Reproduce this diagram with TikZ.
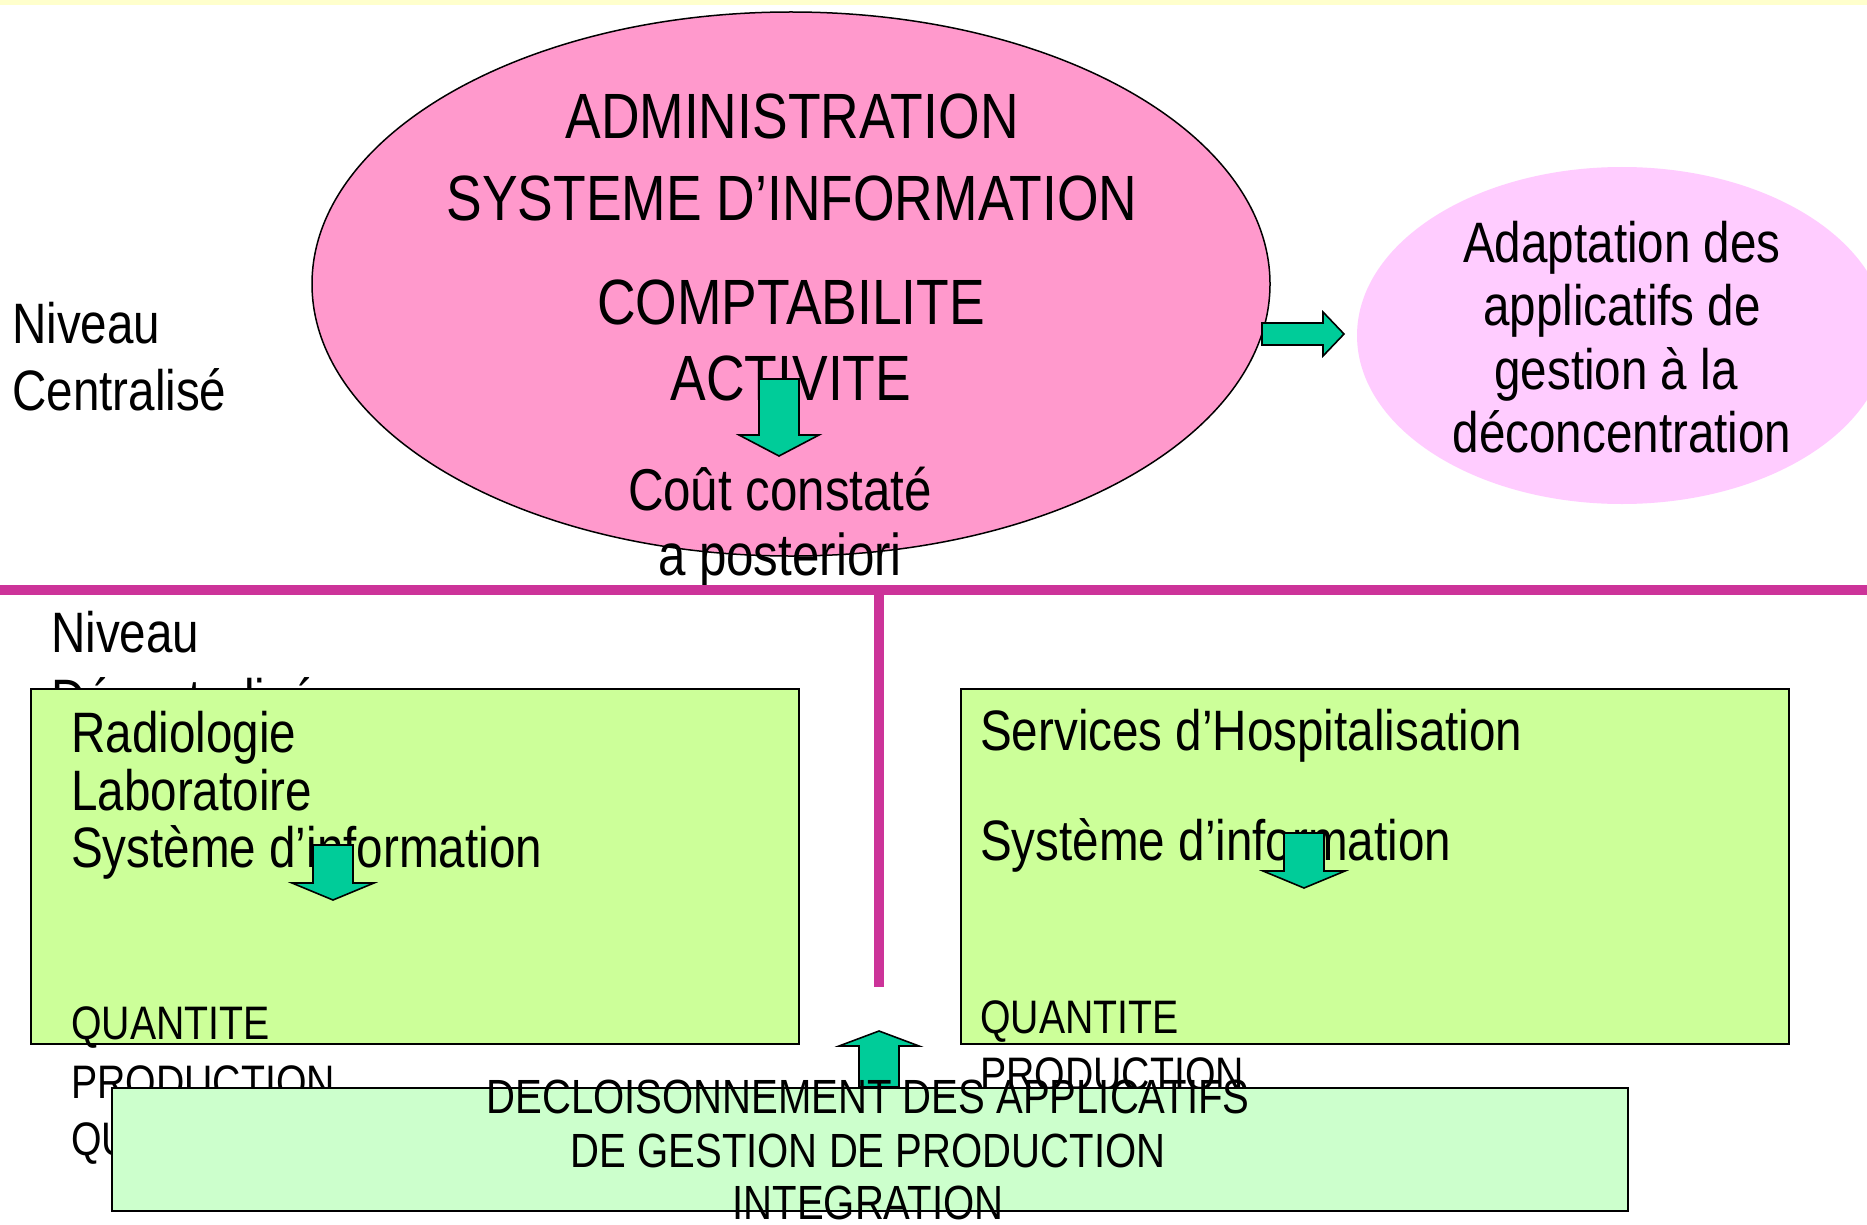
\documentclass[tikz,border=0pt]{standalone}
\usepackage{fontspec}
\setmainfont{Liberation Sans}[FakeStretch=0.835]
\usetikzlibrary{shapes.geometric}
\definecolor{pinkA}{HTML}{FF99CC}
\definecolor{pinkB}{HTML}{FFCCFF}
\definecolor{greenA}{HTML}{CCFF99}
\definecolor{greenB}{HTML}{CCFFCC}
\definecolor{arrowgreen}{HTML}{00CC99}
\definecolor{magentaline}{HTML}{CC3399}
\definecolor{topband}{HTML}{FFFFCC}
\tikzset{
  txtbig/.style={font=\fontsize{64}{70}\selectfont, inner sep=0pt, anchor=base},
  txtmid/.style={font=\fontsize{57}{63}\selectfont, inner sep=0pt},
  txtcout/.style={font=\fontsize{59}{64}\selectfont, inner sep=0pt, anchor=base},
  txtsmall/.style={font=\fontsize{47}{52}\selectfont, inner sep=0pt},
  txtlight/.style={font=\fontsize{48}{52}\selectfont, inner sep=0pt, anchor=base},
  boxA/.style={draw=black, line width=1.8pt, fill=greenA, anchor=north west, inner sep=0pt},
  boxB/.style={draw=black, line width=1.8pt, fill=greenB, anchor=north west, inner sep=0pt},
  blockarrow/.style={draw=black, line width=1.6pt, fill=arrowgreen, line join=miter},
  magline/.style={draw=magentaline, line width=10pt},
  downarrow/.pic={\path[blockarrow] (-20,0) -- (20,0) -- (20,56) -- (40,56) -- (0,77) -- (-40,56) -- (-20,56) -- cycle;},
  dnarrowshort/.pic={\path[blockarrow] (-20,0) -- (20,0) -- (20,38) -- (41,38) -- (0,55) -- (-41,38) -- (-20,38) -- cycle;},
  uparrow/.pic={\path[blockarrow] (-20,0) -- (20,0) -- (20,-41) -- (40,-41) -- (0,-56) -- (-40,-41) -- (-20,-41) -- cycle;},
  rightarrow/.pic={\path[blockarrow] (0,-11) -- (61,-11) -- (61,-22) -- (82,0) -- (61,22) -- (61,11) -- (0,11) -- cycle;}
}
\begin{document}
\begin{tikzpicture}[x=1pt,y=-1pt]
\useasboundingbox (0,0) rectangle (1867,1225);
\clip (0,0) rectangle (1867,1225);
\fill[white] (0,0) rectangle (1867,1225);
\fill[topband] (0,0) rectangle (1867,5);

% top ellipses
\node[ellipse, draw=black, line width=1.5pt, fill=pinkA, minimum width=958pt, minimum height=544pt, inner sep=0pt] (admin) at (791,284) {};
\node[ellipse, fill=pinkB, minimum width=530pt, minimum height=337pt, inner sep=0pt] (adapt) at (1622,335.5) {};

\node[txtbig] (t1) at (792,139) {ADMINISTRATION};
\node[txtbig] (t2) at (792,220) {SYSTEME D’INFORMATION};
\node[txtbig] (t3) at (791,324) {COMPTABILITE};
\node[txtbig] (t4) at (791,400) {ACTIVITE};
\node[txtcout] (c1) at (780,510) {Coût constaté};
\node[txtcout] (c2) at (780,575) {a posteriori};

\pic at (779,379) {downarrow};
\pic at (1262,334) {rightarrow};

\node[txtmid, anchor=base] (a1) at (1622,262) {Adaptation des};
\node[txtmid, anchor=base] (a2) at (1622,325) {applicatifs de};
\node[txtmid, anchor=base] (a3) at (1616,389) {gestion à la};
\node[txtmid, anchor=base] (a4) at (1622,452) {déconcentration};

\node[txtmid, anchor=base west] (n1) at (12,343) {Niveau};
\node[txtmid, anchor=base west] (n2) at (12,410) {Centralisé};

% separator lines
\coordinate (hl) at (0,589.5);
\coordinate (hr) at (1867,589.5);
\coordinate (vt) at (879,589.5);
\coordinate (vb) at (879,987);
\draw[magline] (hl) -- (hr);
\draw[magline] (vt) -- (vb);

\node[txtmid, anchor=base west] (d1) at (51,652) {Niveau};
\node[txtmid, anchor=base west] (d2) at (51,719) {Décentralisé};

% left box
\node[boxA, minimum width=768pt, minimum height=355pt] (left) at (30,688) {};
\node[txtmid, anchor=base west] (l1) at (71,752) {Radiologie};
\node[txtmid, anchor=base west] (l2) at (71,810) {Laboratoire};
\node[txtmid, anchor=base west] (l3) at (71,867) {Système d’information};
\node[txtsmall, anchor=base west] (l4) at (71,1039) {QUANTITE};
\node[txtsmall, anchor=base west] (l5) at (71,1098) {PRODUCTION};
\node[txtsmall, anchor=base west] (l6) at (71,1155) {QUALITE};

% right box
\node[boxA, minimum width=828pt, minimum height=355pt] (right) at (960,688) {};
\node[txtmid, anchor=base west] (r1) at (980,750) {Services d’Hospitalisation};
\node[txtmid, anchor=base west] (r2) at (980,860) {Système d’information};
\node[txtsmall, anchor=base west] (r4) at (980,1033) {QUANTITE};
\node[txtsmall, anchor=base west] (r5) at (980,1090) {PRODUCTION};
\node[txtsmall, anchor=base west] (r6) at (980,1148) {QUALITE};

\pic at (333,845) {dnarrowshort};
\pic at (1304,833) {dnarrowshort};
\pic at (879,1087) {uparrow};

% bottom box
\node[boxB, minimum width=1516pt, minimum height=123pt] (bottom) at (111,1087) {};
\node[txtlight] (b1) at (868,1113) {DECLOISONNEMENT DES APPLICATIFS};
\node[txtlight] (b2) at (868,1167) {DE GESTION DE PRODUCTION};
\node[txtlight] (b3) at (868,1219) {INTEGRATION};
\end{tikzpicture}
\end{document}
